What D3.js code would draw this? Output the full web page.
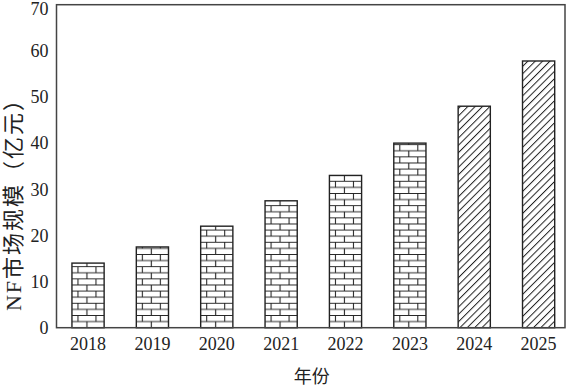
<!DOCTYPE html>
<html>
<head>
<meta charset="utf-8">
<script src="https://cdn.jsdelivr.net/npm/d3@7"></script>
<style>
  body { margin: 0; background: #fff; }
  text { font-family: "Liberation Serif", "Noto Sans CJK SC", serif; fill: #222; }
</style>
</head>
<body>
<svg id="chart"></svg>
<script>
// data
const years = ["2018", "2019", "2020", "2021", "2022", "2023", "2024", "2025"];
const marketSize = [14, 17.5, 22, 27.5, 33, 40, 48, 57.8];
const forecast = [false, false, false, false, false, false, true, true];
const yTicks = [0, 10, 20, 30, 40, 50, 60, 70];

const width = 570, height = 387;
const margin = {top: 4.7, right: 5, bottom: 59.3, left: 56.5};

const svg = d3.select("#chart")
    .attr("width", width)
    .attr("height", height);

const x = d3.scaleBand()
    .domain(years)
    .range([margin.left, width - margin.right])
    .paddingInner(0.5)
    .paddingOuter(0.2)
    .align(0.6);

const y = d3.scaleLinear()
    .domain([0, 70])
    .range([height - margin.bottom, margin.top]);

const bars = years.map((d, i) => ({year: d, value: marketSize[i], forecast: forecast[i], i}));

// patterns
const defs = svg.append("defs");

// brick pattern, one per bar so the bricks line up with each bar's left edge
const brick = defs.selectAll("pattern.brick")
  .data(bars.filter(d => !d.forecast))
  .join("pattern")
    .attr("class", "brick")
    .attr("id", d => "brick" + d.i)
    .attr("patternUnits", "userSpaceOnUse")
    .attr("x", d => x(d.year) + 5.5)
    .attr("y", y(0) - 0.5)
    .attr("width", 18)
    .attr("height", 12.2);

brick.append("rect").attr("width", 18).attr("height", 12.2).attr("fill", "#fff");
brick.append("path")
    .attr("d", "M0,0.5H18M0,6.6H18M0.5,0V6.6M9.5,6.6V12.2")
    .attr("stroke", "#222")
    .attr("stroke-width", 1.1)
    .attr("fill", "none");

const hatch = defs.append("pattern")
    .attr("id", "hatch")
    .attr("patternUnits", "userSpaceOnUse")
    .attr("width", 5.2)
    .attr("height", 10)
    .attr("patternTransform", "rotate(45)");
hatch.append("rect").attr("width", 5.2).attr("height", 10).attr("fill", "#fff");
hatch.append("line")
    .attr("x1", 0.5).attr("y1", 0).attr("x2", 0.5).attr("y2", 10)
    .attr("stroke", "#222")
    .attr("stroke-width", 1);

// bars
svg.append("g")
  .selectAll("rect")
  .data(bars)
  .join("rect")
    .attr("x", d => x(d.year))
    .attr("y", d => y(d.value))
    .attr("width", x.bandwidth())
    .attr("height", d => y(0) - y(d.value))
    .attr("fill", d => d.forecast ? "url(#hatch)" : `url(#brick${d.i})`)
    .attr("stroke", "#222")
    .attr("stroke-width", 1.4);

// frame
svg.append("rect")
    .attr("x", margin.left)
    .attr("y", margin.top)
    .attr("width", width - margin.right - margin.left)
    .attr("height", y(0) - margin.top)
    .attr("fill", "none")
    .attr("stroke", "#444")
    .attr("stroke-width", 1.5);

// axes (labels only, no tick marks)
const yAxis = svg.append("g")
    .attr("transform", `translate(${margin.left},0)`)
    .call(d3.axisLeft(y).tickValues(yTicks).tickSize(0).tickPadding(8));
yAxis.select(".domain").remove();
yAxis.selectAll("text")
    .style("font-size", "18px")
    .style("font-family", "Liberation Serif");
// keep the top label inside the picture
yAxis.selectAll(".tick")
    .filter(d => d === 70)
    .select("text")
    .attr("dy", "0.55em");

const xAxis = svg.append("g")
    .attr("transform", `translate(0,${y(0)})`)
    .call(d3.axisBottom(x).tickSize(0).tickPadding(10));
xAxis.select(".domain").remove();
xAxis.selectAll("text")
    .style("font-size", "18px")
    .style("font-family", "Liberation Serif");

svg.append("text")
    .attr("x", (margin.left + width - margin.right) / 2 + 1)
    .attr("y", 383)
    .attr("text-anchor", "middle")
    .style("font-size", "18px")
    .text("年份");

svg.append("text")
    .attr("transform", "translate(21,200) rotate(-90)")
    .attr("text-anchor", "middle")
    .attr("textLength", 222)
    .attr("lengthAdjust", "spacing")
    .style("font-size", "22px")
    .text("NF市场规模（亿元）");
</script>
</body>
</html>
